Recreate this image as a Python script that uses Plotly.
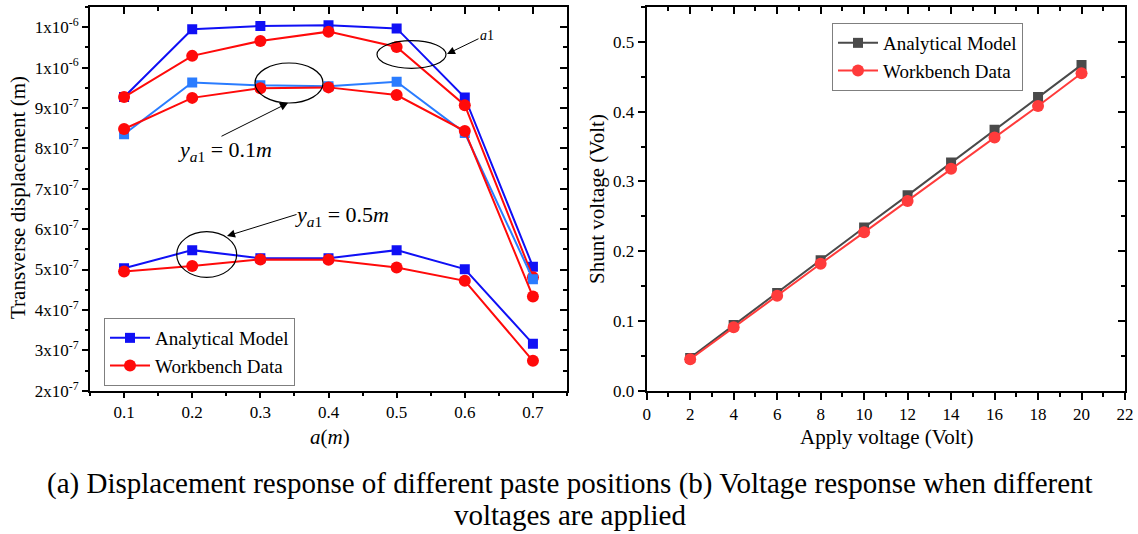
import plotly.graph_objects as go

W, H = 1138, 534

# ---------------- data ----------------
a_pos = [0.1, 0.2, 0.3, 0.4, 0.5, 0.6, 0.7]
analytic_a1 = [9.27e-7, 1.095e-6, 1.103e-6, 1.105e-6, 1.097e-6, 9.26e-7, 5.07e-7]
workbench_a1 = [9.27e-7, 1.029e-6, 1.066e-6, 1.089e-6, 1.051e-6, 9.07e-7, 4.81e-7]
analytic_01 = [8.35e-7, 9.63e-7, 9.56e-7, 9.54e-7, 9.65e-7, 8.38e-7, 4.76e-7]
workbench_01 = [8.48e-7, 9.25e-7, 9.49e-7, 9.51e-7, 9.32e-7, 8.43e-7, 4.33e-7]
analytic_05 = [5.03e-7, 5.48e-7, 5.28e-7, 5.28e-7, 5.48e-7, 5.01e-7, 3.16e-7]
workbench_05 = [4.95e-7, 5.09e-7, 5.25e-7, 5.24e-7, 5.05e-7, 4.72e-7, 2.74e-7]

left_ytickvals = [2e-7, 3e-7, 4e-7, 5e-7, 6e-7, 7e-7, 8e-7, 9e-7, 1.0e-6, 1.1e-6]
left_yticktext = ["2x10<sup>-7</sup>", "3x10<sup>-7</sup>", "4x10<sup>-7</sup>", "5x10<sup>-7</sup>",
                  "6x10<sup>-7</sup>", "7x10<sup>-7</sup>", "8x10<sup>-7</sup>", "9x10<sup>-7</sup>",
                  "1x10<sup>-6</sup>", "1x10<sup>-6</sup>"]

apply_v = [2, 4, 6, 8, 10, 12, 14, 16, 18, 20]
shunt_analytic = [0.047, 0.094, 0.140, 0.187, 0.234, 0.280, 0.327, 0.374, 0.421, 0.467]
shunt_workbench = [0.045, 0.091, 0.136, 0.182, 0.227, 0.272, 0.318, 0.363, 0.408, 0.455]

caption1 = "(a) Displacement response of different paste positions (b) Voltage response when different"
caption2 = "voltages are applied"

# ---------------- style ----------------
FONT = "Liberation Serif"
BLUE = "#1010f5"
LBLUE = "#2a7cff"
RED = "#ff0a0a"
GRAY = "#4a4a4a"
RED2 = "#ff3b3b"


def px(x):
    return x / W


def py(y):
    return 1 - y / H


fig = go.Figure()

left_series = [
    (analytic_a1, BLUE, "square", "Analytical Model", True),
    (workbench_a1, RED, "circle", "Workbench Data", True),
    (analytic_01, LBLUE, "square", "Analytical Model", False),
    (workbench_01, RED, "circle", "Workbench Data", False),
    (analytic_05, BLUE, "square", "Analytical Model", False),
    (workbench_05, RED, "circle", "Workbench Data", False),
]
for vals, col, sym, name, show in left_series:
    fig.add_trace(go.Scatter(
        x=a_pos, y=vals, mode="lines+markers", name=name, showlegend=show,
        legend="legend",
        line=dict(color=col, width=2),
        marker=dict(symbol=sym, size=10 if sym == "square" else 12, color=col),
        xaxis="x", yaxis="y"))

fig.add_trace(go.Scatter(
    x=apply_v, y=shunt_analytic, mode="lines+markers", name="Analytical Model",
    legend="legend2", line=dict(color=GRAY, width=2),
    marker=dict(symbol="square", size=10, color=GRAY), xaxis="x2", yaxis="y2"))
fig.add_trace(go.Scatter(
    x=apply_v, y=shunt_workbench, mode="lines+markers", name="Workbench Data",
    legend="legend2", line=dict(color=RED2, width=2),
    marker=dict(symbol="circle", size=12, color=RED2), xaxis="x2", yaxis="y2"))

# dummy traces so the mirror axes (inside ticks) exist
fig.add_trace(go.Scatter(x=[], y=[], xaxis="x3", yaxis="y3", showlegend=False, hoverinfo="skip"))
fig.add_trace(go.Scatter(x=[], y=[], xaxis="x4", yaxis="y4", showlegend=False, hoverinfo="skip"))

tickfont = dict(family=FONT, size=17, color="black")
tickfont2 = dict(family=FONT, size=17, color="black")

LX = [px(90), px(567)]
RX = [px(646.7), px(1125)]
YD = [py(390.7), py(7)]

XR1 = [0.05, 0.75]
YR1 = [2e-7, 1.15e-6]
XR2 = [0, 22]
YR2 = [0, 0.55]

common = dict(showgrid=False, zeroline=False, showline=True, linecolor="black", linewidth=2,
              automargin=False)

fig.update_layout(
    width=W, height=H, margin=dict(l=0, r=0, t=0, b=0, autoexpand=False),
    paper_bgcolor="white", plot_bgcolor="white",
    font=dict(family=FONT, color="black"),
    xaxis=dict(domain=LX, range=XR1, anchor="y", tickvals=a_pos, ticktext=[f"{v:.1f}" for v in a_pos],
               ticks="outside", ticklen=5, tickwidth=1.5, tickcolor="black", tickfont=tickfont,
               minor=dict(ticks="outside", ticklen=3, dtick=0.05, tick0=0.05, tickcolor="black", tickwidth=1.5),
               **common),
    yaxis=dict(domain=YD, range=YR1, anchor="x", tickvals=left_ytickvals, ticktext=left_yticktext,
               ticks="outside", ticklen=6, tickwidth=1.5, tickcolor="black", tickfont=tickfont,
               minor=dict(ticks="outside", ticklen=3, dtick=5e-8, tick0=2e-7, tickcolor="black", tickwidth=1.5),
               **common),
    xaxis3=dict(overlaying="x", side="top", anchor="y3", range=XR1, tickvals=a_pos, showticklabels=False,
                ticks="inside", ticklen=7, tickwidth=1.5, tickcolor="black",
                minor=dict(ticks="inside", ticklen=4, dtick=0.05, tick0=0.05, tickcolor="black", tickwidth=1.5),
                **common),
    yaxis3=dict(overlaying="y", side="right", anchor="x3", range=YR1, tickvals=left_ytickvals,
                showticklabels=False, ticks="inside", ticklen=7, tickwidth=1.5, tickcolor="black",
                minor=dict(ticks="inside", ticklen=4, dtick=5e-8, tick0=2e-7, tickcolor="black", tickwidth=1.5),
                **common),
    xaxis2=dict(domain=RX, range=XR2, anchor="y2", tickmode="linear", tick0=0, dtick=2,
                ticks="outside", ticklen=7, tickwidth=1.5, tickcolor="black", tickfont=tickfont2,
                minor=dict(ticks="outside", ticklen=4, dtick=1, tick0=0, tickcolor="black", tickwidth=1.5),
                **common),
    yaxis2=dict(domain=YD, range=YR2, anchor="x2", tickmode="linear", tick0=0, dtick=0.1, tickformat=".1f",
                ticks="outside", ticklen=7, tickwidth=1.5, tickcolor="black", tickfont=tickfont2,
                minor=dict(ticks="outside", ticklen=4, dtick=0.05, tick0=0, tickcolor="black", tickwidth=1.5),
                **common),
    xaxis4=dict(overlaying="x2", side="top", anchor="y4", range=XR2, tickmode="linear", tick0=0, dtick=2,
                showticklabels=False, ticks="inside", ticklen=7, tickwidth=1.5, tickcolor="black",
                minor=dict(ticks="inside", ticklen=4, dtick=1, tick0=0, tickcolor="black", tickwidth=1.5),
                **common),
    yaxis4=dict(overlaying="y2", side="right", anchor="x4", range=YR2, tickmode="linear", tick0=0, dtick=0.1,
                showticklabels=False, ticks="inside", ticklen=7, tickwidth=1.5, tickcolor="black",
                minor=dict(ticks="inside", ticklen=4, dtick=0.05, tick0=0, tickcolor="black", tickwidth=1.5),
                **common),
    legend=dict(x=px(104), y=py(318), xanchor="left", yanchor="top", bgcolor="white",
                bordercolor="#7f7f7f", borderwidth=1, font=dict(family=FONT, size=19, color="black"),
                tracegroupgap=0, itemwidth=40),
    legend2=dict(x=px(832), y=py(23), xanchor="left", yanchor="top", bgcolor="white",
                 bordercolor="#7f7f7f", borderwidth=1, font=dict(family=FONT, size=19, color="black"),
                 tracegroupgap=0, itemwidth=40),
    showlegend=True,
)

# ellipses
for x0, x1, y0, y1 in [(377, 446, 40.7, 68.3), (255, 323, 63, 103), (176.7, 236.7, 231.7, 277.3)]:
    fig.add_shape(type="circle", xref="paper", yref="paper",
                  x0=px(x0), x1=px(x1), y0=py(y1), y1=py(y0),
                  line=dict(color="black", width=1.2))

# arrows (tip, tail)
for (tx, ty), (sx, sy) in [((447, 54), (480, 38)), ((288, 103), (220, 137)), ((227, 236), (298, 214))]:
    fig.add_annotation(x=px(tx), y=py(ty), xref="paper", yref="paper", ax=sx - tx, ay=sy - ty,
                       showarrow=True, arrowhead=2, arrowsize=1.6, arrowwidth=1, arrowcolor="black", text="")


def label(x, y, text, size, angle=0):
    fig.add_annotation(x=px(x), y=py(y), xref="paper", yref="paper", showarrow=False,
                       xanchor="center", yanchor="middle", textangle=angle,
                       text=text, font=dict(family=FONT, size=size, color="black"))


label(225, 151, "<i>y</i><sub><i>a</i>1</sub> = 0.1<i>m</i>", 22)
label(342, 216, "<i>y</i><sub><i>a</i>1</sub> = 0.5<i>m</i>", 22)
label(487, 35, "<i>a</i>1", 14)

# axis titles
label(18, 198, "Transverse displacement (m)", 21, angle=-90)
label(330, 437, "<i>a</i>(<i>m</i>)", 21)
label(597, 199, "Shunt voltage (Volt)", 21, angle=-90)
label(886, 437, "Apply voltage (Volt)", 21)

# caption
label(570, 483, caption1, 29)
label(570, 515, caption2, 29)

fig.write_html("out.html")
